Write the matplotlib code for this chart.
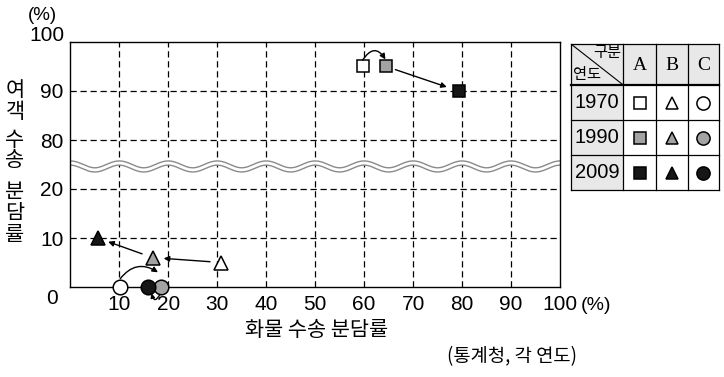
import matplotlib
matplotlib.use("Agg")
import matplotlib.pyplot as plt
import numpy as np

plt.rcParams['font.family'] = ['Noto Sans CJK KR', 'DejaVu Sans']

# 화물 수송 분담률(x) / 여객 수송 분담률(y), 단위 %
years = ['1970', '1990', '2009']
cats = ['A', 'B', 'C']
a_x = [59.7, 64.5, 79.3]
a_y = [95, 95, 90]
b_x = [30.8, 16.8, 5.6]
b_y = [5, 6, 10]
c_x = [10.2, 18.6, 15.9]
c_y = [0, 0, 0]

x_ticks = [10, 20, 30, 40, 50, 60, 70, 80, 90, 100]
y_ticks = [0, 10, 20, 80, 90, 100]

markers = ['s', '^', 'o']
fills = ['white', '#a3a3a3', '#161616']
num_font = 'Liberation Sans'


def brk(v):
    # 물결선 위쪽(75~100)을 25~50 자리로 내려서 그림
    v = np.asarray(v, dtype=float)
    return np.where(v >= 50, v - 50, v)


W, H = 724, 377
fig = plt.figure(figsize=(W / 100, H / 100), dpi=100)
ax = fig.add_axes([70.3 / W, (H - 287) / H, (560 - 70.3) / W, (287 - 42) / H])
ax.set_xlim(0, 100)
ax.set_ylim(0, 50)

# grid
dash = (0, (5, 3))
for xv in x_ticks[:-1]:
    ax.axvline(xv, color='black', lw=0.9, ls=dash, zorder=1)
for yv in y_ticks[1:-1]:
    ax.axhline(float(brk(yv)), color='black', lw=0.9, ls=dash, zorder=1)

# 물결선
wx = np.linspace(0, 100, 600)
wy = 24.6 + 0.7 * np.cos(2 * np.pi * wx / 10)
ax.plot(wx, wy, color='#8a8a8a', lw=4.0, zorder=2, solid_capstyle='butt')
ax.plot(wx, wy, color='white', lw=2.0, zorder=2.1, solid_capstyle='butt')

for s in ax.spines.values():
    s.set_linewidth(1.0)
    s.set_zorder(5)

ax.set_xticks(x_ticks)
ax.set_xticklabels([str(t) for t in x_ticks], fontsize=15, family=num_font)
ax.set_yticks(brk(y_ticks))
ax.set_yticklabels([''] + [str(t) for t in y_ticks[1:-1]] + [''], fontsize=15, family=num_font)
ax.tick_params(length=0, pad=6)
ax.tick_params(axis='y', pad=5)

ax.annotate('0', xy=(0, 0), xytext=(-9, -8), textcoords='offset points',
            ha='right', va='center', fontsize=15, family=num_font, annotation_clip=False)
ax.annotate('100', xy=(0, 50), xytext=(-4, 5), textcoords='offset points',
            ha='right', va='center', fontsize=15, family=num_font, annotation_clip=False)
ax.annotate('(%)', xy=(0, 50), xytext=(-20, 19), textcoords='offset points',
            ha='center', va='center', fontsize=13.5, family=num_font, annotation_clip=False)
ax.annotate('(%)', xy=(100, 0), xytext=(26, -13), textcoords='offset points',
            ha='center', va='center', fontsize=14, family=num_font, annotation_clip=False)

# 점
xs = [a_x, b_x, c_x]
ys = [a_y, b_y, c_y]
sizes = [9, 9.5, 10.5]
for k in range(3):
    for i in range(3):
        ax.plot(xs[k][i], float(brk(ys[k][i])), marker=markers[k], ms=sizes[k],
                mfc=fills[i], mec='black', mew=1.1, ls='none', zorder=6, clip_on=False)

ap = dict(arrowstyle='-|>', color='black', lw=1.0, mutation_scale=8)


def arrow(x0, y0, x1, y1, rad, sa, sb, ms=8):
    p = dict(ap, connectionstyle=f'arc3,rad={rad}', shrinkA=sa, shrinkB=sb, mutation_scale=ms)
    ax.annotate('', xy=(x1, y1), xytext=(x0, y0), arrowprops=p,
                annotation_clip=False, zorder=7)


# A
arrow(a_x[0], float(brk(a_y[0])) + 1.3, a_x[1], float(brk(a_y[1])) + 1.2, -0.8, 0, 1)
arrow(a_x[1], float(brk(a_y[1])), a_x[2], float(brk(a_y[2])), 0, 7, 9)
# B
arrow(b_x[0], b_y[0], b_x[1], b_y[1], 0, 8, 8)
arrow(b_x[1], b_y[1], b_x[2], b_y[2], 0, 8, 8)
# C
arrow(c_x[0], c_y[0] + 1.7, c_x[1] - 0.7, c_y[1] + 3.0, -0.45, 0, 0)
arrow(c_x[1] - 0.3, c_y[1] - 1.5, c_x[2] + 0.7, c_y[2] - 1.3, -1.3, 0, 0, 6)

# 축 제목
ylab = [('여', 90), ('객', 112), ('수', 140), ('송', 160), ('분', 192), ('담', 213), ('률', 235)]
for ch, py in ylab:
    fig.text(15 / W, 1 - py / H, ch, fontsize=15, ha='center', va='center')
fig.text(317 / W, 1 - 330 / H, '화물 수송 분담률', fontsize=15, ha='center', va='center')
fig.text(512 / W, 1 - 357 / H, '(통계청, 각 연도)', fontsize=13.5, ha='center', va='center')

# 범례 표
tx0, ty0, tx1, ty1 = 571, 44, 719, 190
t = fig.add_axes([tx0 / W, (H - ty1) / H, (tx1 - tx0) / W, (ty1 - ty0) / H])
tw, th = tx1 - tx0, ty1 - ty0
t.set_xlim(0, tw)
t.set_ylim(th, 0)
t.axis('off')
cx = [0, 52.3, 84.7, 116.7, tw]
ry = [0, 41, 76, 111, th]
gray = '#e8e8e8'
t.fill_between([0, tw], 0, ry[1], color=gray, lw=0)
t.fill_between([0, cx[1]], 0, th, color=gray, lw=0)
for v in cx:
    t.plot([v, v], [0, th], color='black', lw=0.9, clip_on=False)
for j, v in enumerate(ry):
    t.plot([0, tw], [v, v], color='black', lw=1.6 if j == 1 else 0.9, clip_on=False)
t.plot([0, cx[1]], [0, ry[1]], color='black', lw=0.8)
t.text(cx[1] - 2, 9, '구분', fontsize=11, ha='right', va='center')
t.text(2, 31, '연도', fontsize=11, ha='left', va='center')
for k, c in enumerate(cats):
    t.text((cx[k + 1] + cx[k + 2]) / 2, ry[1] / 2 + 1, c, fontsize=14,
           family='Liberation Serif', ha='center', va='center')
for i, yr in enumerate(years):
    ymid = (ry[i + 1] + ry[i + 2]) / 2
    t.text(cx[1] / 2, ymid, yr, fontsize=14.5, family=num_font, ha='center', va='center')
    for k in range(3):
        t.plot((cx[k + 1] + cx[k + 2]) / 2, ymid, marker=markers[k], ms=[8, 8.5, 9.5][k],
               mfc=fills[i], mec='black', mew=1.1, ls='none')

fig.savefig('out.png', dpi=100)
